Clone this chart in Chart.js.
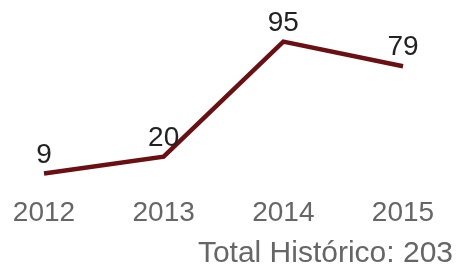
<!DOCTYPE html>
<html>
<head>
<meta charset="utf-8">
<script src="https://cdn.jsdelivr.net/npm/chart.js@4"></script>
<style>
  html, body { margin: 0; padding: 0; background: #fff; }
  #wrap { width: 460px; height: 267px; }
</style>
</head>
<body>
<div id="wrap"><canvas id="chart"></canvas></div>
<script>
const years = ['2012', '2013', '2014', '2015'];
const values = [9, 20, 95, 79];
const totalText = 'Total Histórico: 203';

const fontFamily = '"Liberation Sans", Arial, sans-serif';

// value above each point + the total line at the bottom right
const extraText = {
    id: 'extraText',
    afterDatasetsDraw(chart) {
        const ctx = chart.ctx;
        const meta = chart.getDatasetMeta(0);
        ctx.save();
        ctx.font = '28px ' + fontFamily;
        ctx.fillStyle = '#222';
        ctx.textAlign = 'center';
        ctx.textBaseline = 'alphabetic';
        meta.data.forEach((pt, i) => {
            ctx.fillText(values[i], pt.x, pt.y - 11);
        });

        ctx.font = '30px ' + fontFamily;
        ctx.fillStyle = '#666';
        ctx.textAlign = 'right';
        ctx.fillText(totalText, chart.width - 7, 262);
        ctx.restore();
    }
};

new Chart(
    document.getElementById('chart'),
    {
        type: 'line',
        data: {
            labels: years,
            datasets: [
                {
                    data: values,
                    borderColor: '#6b0f12',
                    borderWidth: 4.5,
                    pointRadius: 0,
                    tension: 0,
                    fill: false
                }
            ]
        },
        options: {
            responsive: true,
            maintainAspectRatio: false,
            animation: false,
            layout: {
                padding: { left: 44, right: 57, top: 34, bottom: 28 }
            },
            scales: {
                x: {
                    offset: false,
                    grid: { display: false, drawTicks: false },
                    border: { display: false },
                    ticks: {
                        color: '#666',
                        font: { family: fontFamily, size: 28 },
                        maxRotation: 0,
                        autoSkip: false,
                        padding: 9
                    }
                },
                y: {
                    display: false,
                    min: 0,
                    max: 100
                }
            },
            plugins: {
                legend: { display: false },
                tooltip: { enabled: false }
            }
        },
        plugins: [extraText]
    }
);
</script>
</body>
</html>
